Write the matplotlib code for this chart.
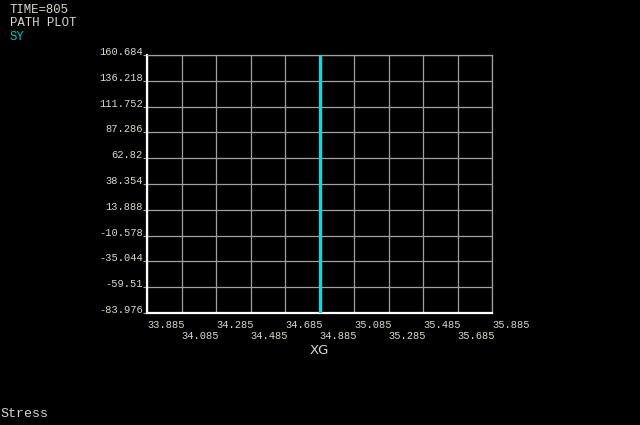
import numpy as np
import matplotlib
matplotlib.use('Agg')
from matplotlib import pyplot as plt
from matplotlib import transforms

# path data (all points sit at the same XG)
xg = [34.885, 34.885]
sy = [-83.976, 160.684]

x_ticks = [33.885, 34.085, 34.285, 34.485, 34.685, 34.885, 35.085, 35.285, 35.485, 35.685, 35.885]
x_labels = ['33.885', '34.085', '34.285', '34.485', '34.685', '34.885',
            '35.085', '35.285', '35.485', '35.685', '35.885']
y_ticks = [-83.976, -59.51, -35.044, -10.578, 13.888, 38.354, 62.82, 87.286, 111.752, 136.218, 160.684]
y_labels = ['-83.976', '-59.51', '-35.044', '-10.578', '13.888', '38.354',
            '62.82', '87.286', '111.752', '136.218', '160.684']

W, H = 640, 425
txt = '#d8d8d0'
cyan = '#00e0e0'
mono = 'Liberation Mono'

fig = plt.figure(figsize=(W / 100, H / 100), dpi=100, facecolor='black')
ax = fig.add_axes([147 / W, 1 - 313 / H, (492 - 147) / W, (313 - 55) / H], facecolor='black')

ax.plot(xg, sy, color=cyan, lw=2.4, solid_capstyle='butt', zorder=3)

ax.set_xlim(x_ticks[0], x_ticks[-1])
ax.set_ylim(y_ticks[0], y_ticks[-1])
ax.set_xticks(x_ticks)
ax.set_yticks(y_ticks)
ax.grid(True, color='#a0a0a0', lw=0.9)
ax.tick_params(axis='x', length=0, labelbottom=False)
ax.tick_params(axis='y', length=3, color='#a0a0a0', labelleft=False)

for s in ['top', 'right']:
    ax.spines[s].set_color('#a0a0a0')
    ax.spines[s].set_linewidth(0.9)
for s in ['left', 'bottom']:
    ax.spines[s].set_color('white')
    ax.spines[s].set_linewidth(1.6)

# y labels, right aligned, sitting on the grid line
ytr = transforms.offset_copy(ax.get_yaxis_transform(), fig=fig, x=-4, y=0, units='dots')
for v, lab in zip(y_ticks, y_labels):
    ax.text(0, v, lab, transform=ytr, ha='right', va='baseline',
            color=txt, fontsize=7.5, family=mono)

# x labels, staggered in two rows, starting at the tick
for i, (v, lab) in enumerate(zip(x_ticks, x_labels)):
    dy = -7 if i % 2 == 0 else -18
    xtr = transforms.offset_copy(ax.get_xaxis_transform(), fig=fig, x=0, y=dy, units='dots')
    ax.text(v, 0, lab, transform=xtr, ha='left', va='top',
            color=txt, fontsize=7.5, family=mono)

fig.text(319 / W, 1 - 350 / H, 'XG', ha='center', va='center', color=txt,
         fontsize=9.5, family='DejaVu Sans')

fig.text(10 / W, 1 - 10 / H, 'TIME=805', ha='left', va='center', color=txt, fontsize=8.9, family=mono)
fig.text(10 / W, 1 - 23 / H, 'PATH PLOT', ha='left', va='center', color=txt, fontsize=8.9, family=mono)
fig.text(10 / W, 1 - 37 / H, 'SY', ha='left', va='center', color='#00c0c0', fontsize=8.9, family=mono)
fig.text(0 / W, 1 - 414 / H, 'Stress', ha='left', va='center', color=txt, fontsize=9.6, family=mono)

plt.savefig('out.png', dpi=100, facecolor='black')
